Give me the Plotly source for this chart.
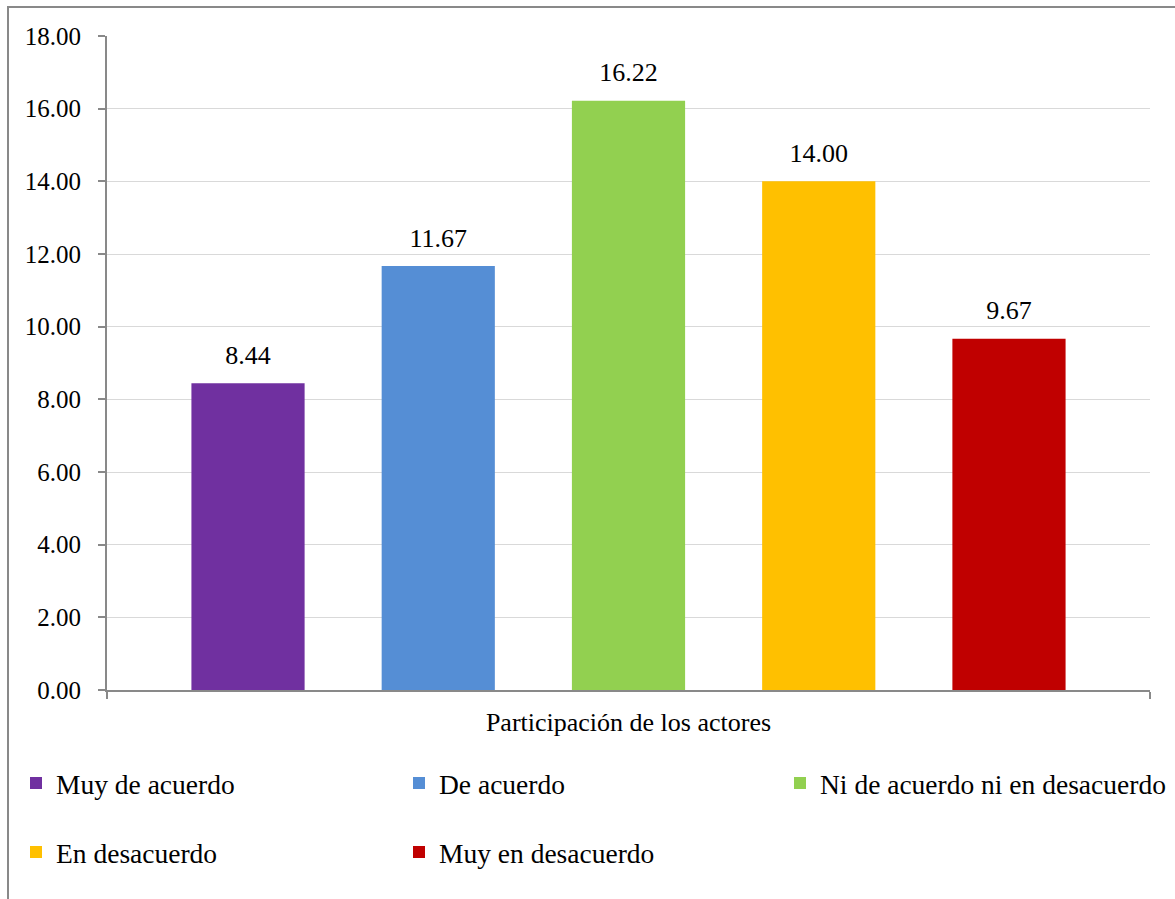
import plotly.graph_objects as go

category = "Participación de los actores"
series = ["Muy de acuerdo", "De acuerdo", "Ni de acuerdo ni en desacuerdo",
          "En desacuerdo", "Muy en desacuerdo"]
values = [8.44, 11.67, 16.22, 14.00, 9.67]
colors = ["#7030A0", "#558ED5", "#92D050", "#FFC000", "#C00000"]

FONT = "Liberation Serif"
FS = 26
W, H = 1175, 899
L, R, T, B = 107, 25, 36, 209
PW, PH = W - L - R, H - T - B


def px_x(x):
    return (x - L) / PW


def px_y(y):
    return (H - B - y) / PH


# legend anchor points (symbol centre) for each series
legend_pos = [(39, 784), (422, 784), (803, 784), (39, 853), (422, 853)]

fig = go.Figure()
for i, (name, val, col) in enumerate(zip(series, values, colors)):
    lg = "legend" if i == 0 else f"legend{i + 1}"
    fig.add_trace(go.Bar(
        x=[category], y=[val], name=name,
        marker=dict(color=col, line=dict(width=0)),
        text=[val],
        texttemplate=f"<span style='font-size:{FS}px'>%{{y:.2f}}</span><br> ",
        textposition="outside",
        textfont=dict(family=FONT, size=11, color="#000000"),
        cliponaxis=False,
        legend=lg,
    ))

legend_layouts = {}
for i, (cx, cy) in enumerate(legend_pos):
    key = "legend" if i == 0 else f"legend{i + 1}"
    legend_layouts[key] = dict(
        x=px_x(cx - 23), y=px_y(cy - 1), xanchor="left", yanchor="middle",
        xref="paper", yref="paper",
        font=dict(family=FONT, size=27.5, color="#000000"),
        bgcolor="rgba(0,0,0,0)", borderwidth=0,
    )

fig.update_layout(
    width=W, height=H,
    margin=dict(l=L, r=R, t=T, b=B, autoexpand=False),
    paper_bgcolor="white", plot_bgcolor="white",
    barmode="group",
    bargap=0.088,
    bargroupgap=0.405,
    showlegend=True,
    font=dict(family=FONT, size=FS, color="#000000"),
    xaxis=dict(
        type="category",
        showline=True, linecolor="#898989", linewidth=2,
        ticks="outside", ticklen=7, tickcolor="#898989", tickwidth=2,
        tickson="boundaries",
        tickfont=dict(family=FONT, size=FS, color="#000000"),
        ticklabelstandoff=8,
        showgrid=False,
    ),
    yaxis=dict(
        range=[0, 18], dtick=2, tickformat=".2f",
        showline=True, linecolor="#898989", linewidth=2,
        ticks="outside", ticklen=7, tickcolor="#898989", tickwidth=2,
        tickfont=dict(family=FONT, size=25, color="#000000"),
        ticklabelstandoff=12,
        showgrid=True, gridcolor="#d9d9d9", gridwidth=1,
        zeroline=False,
    ),
    shapes=[
        dict(type="rect", xref="paper", yref="paper",
             x0=px_x(8), x1=px_x(W + 20), y0=px_y(H + 20), y1=px_y(7),
             line=dict(color="#898989", width=2), fillcolor="rgba(0,0,0,0)",
             layer="below"),
    ],
    **legend_layouts,
)

fig.write_html("out.html")
